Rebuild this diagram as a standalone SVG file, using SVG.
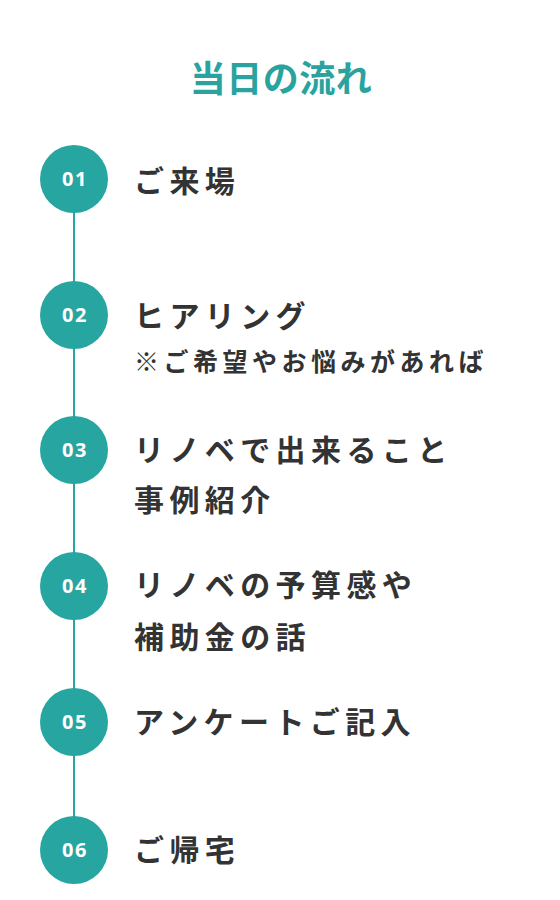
<svg xmlns="http://www.w3.org/2000/svg" width="560" height="900" viewBox="0 0 560 900">
<style>
.title{font-family:"Noto Sans CJK JP","Noto Sans",sans-serif;font-weight:700;font-size:36px;fill:#2aa39f;letter-spacing:0.5px}
.num{font-family:"Open Sans","Noto Sans",sans-serif;font-weight:700;font-size:20px;fill:#fff;letter-spacing:1.5px}
.lbl{font-family:"Noto Sans CJK JP",sans-serif;font-weight:700;font-size:30px;fill:#333;letter-spacing:5.4px}
.sub{font-family:"Noto Sans CJK JP",sans-serif;font-weight:700;font-size:25px;fill:#333;letter-spacing:4.5px}
.dot{fill:#27a5a0}
.ln{stroke:#27a5a0;stroke-width:2}
</style>
<rect width="560" height="900" fill="#fff"/>
<text class="title" x="281" y="92" text-anchor="middle">当日の流れ</text>
<g id="connectors">
<line class="ln" x1="74" y1="210" x2="74" y2="285"/>
<line class="ln" x1="74" y1="346" x2="74" y2="420"/>
<line class="ln" x1="74" y1="481" x2="74" y2="556"/>
<line class="ln" x1="74" y1="617" x2="74" y2="692"/>
<line class="ln" x1="74" y1="753" x2="74" y2="820"/>
</g>
<g id="step01"><circle class="dot" cx="74" cy="179" r="34"/><text class="num" x="75" y="186" text-anchor="middle">01</text><text class="lbl" x="134" y="192">ご来場</text></g>
<g id="step02"><circle class="dot" cx="74" cy="315" r="34"/><text class="num" x="75" y="322" text-anchor="middle">02</text><text class="lbl" x="134" y="327">ヒアリング</text><text class="sub" x="134" y="371">※ご希望やお悩みがあれば</text></g>
<g id="step03"><circle class="dot" cx="74" cy="450" r="34"/><text class="num" x="75" y="457" text-anchor="middle">03</text><text class="lbl" x="134" y="461">リノベで出来ること</text><text class="lbl" x="134" y="511">事例紹介</text></g>
<g id="step04"><circle class="dot" cx="74" cy="586" r="34"/><text class="num" x="75" y="593" text-anchor="middle">04</text><text class="lbl" x="134" y="596">リノベの予算感や</text><text class="lbl" x="134" y="648">補助金の話</text></g>
<g id="step05"><circle class="dot" cx="74" cy="722" r="34"/><text class="num" x="75" y="729" text-anchor="middle">05</text><text class="lbl" x="134" y="733">アンケートご記入</text></g>
<g id="step06"><circle class="dot" cx="74" cy="850" r="34"/><text class="num" x="75" y="857" text-anchor="middle">06</text><text class="lbl" x="134" y="861">ご帰宅</text></g>
</svg>
